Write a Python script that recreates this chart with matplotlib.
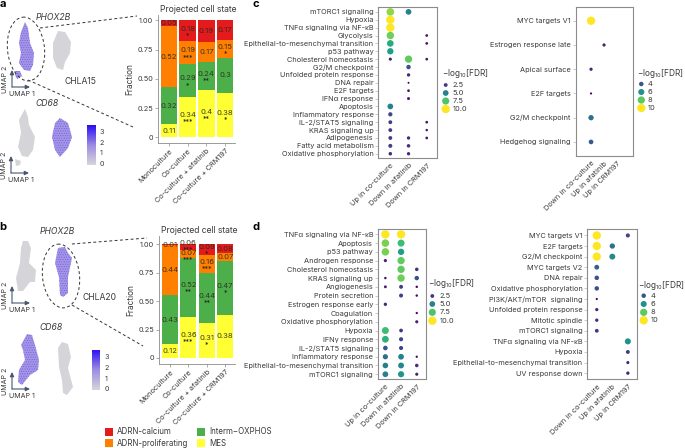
import numpy as np
import matplotlib
matplotlib.use("Agg")
import matplotlib.pyplot as plt
from matplotlib.colors import LinearSegmentedColormap, Normalize
from matplotlib.patches import Ellipse, Polygon, Rectangle

plt.rcParams['font.family'] = ['Inter', 'DejaVu Sans']
plt.rcParams['mathtext.default'] = 'regular'
plt.rcParams['hatch.linewidth'] = 0.4

W, H = 685, 448
TXT = '#3a3a3a'
GREY_BOX = '#8c8c8c'

# stacked bars
conditions = ['Monoculture', 'Co-culture', 'Co-culture + afatinib', 'Co-culture + CRM197']
states = ['MES', 'Interm−OXPHOS', 'ADRN-proliferating', 'ADRN-calcium']
state_colors = ['#ffff33', '#4daf4a', '#ff7f00', '#e41a1c']

a_mes = [0.11, 0.34, 0.40, 0.38]
a_oxphos = [0.32, 0.29, 0.24, 0.30]
a_prolif = [0.52, 0.19, 0.17, 0.15]
a_calcium = [0.05, 0.18, 0.19, 0.17]
a_labels = [['0.11', '0.34', '0.4', '0.38'], ['0.32', '0.29', '0.24', '0.3'],
            ['0.52', '0.19', '0.17', '0.15'], ['0.05', '0.18', '0.19', '0.17']]
a_stars = [['', '***', '**', '*'], ['', '*', '**', ''],
           ['', '***', '', '*'], ['', '*', '', '']]

b_mes = [0.12, 0.36, 0.31, 0.38]
b_oxphos = [0.43, 0.52, 0.44, 0.47]
b_prolif = [0.44, 0.07, 0.16, 0.07]
b_calcium = [0.01, 0.05, 0.09, 0.08]
b_labels = [['0.12', '0.36', '0.31', '0.38'], ['0.43', '0.52', '0.44', '0.47'],
            ['0.44', '0.07', '0.16', '0.07'], ['0.01', '0.06', '0.09', '0.08']]
b_stars = [['', '***', '*', ''], ['', '**', '**', '*'],
           ['', '***', '***', ''], ['', '***', '*', '']]

# dot plots, values are -log10 FDR, nan = not significant
n = np.nan
c1_terms = ['mTORC1 signaling', 'Hypoxia', 'TNFα signaling via NF-κB', 'Glycolysis',
            'Epithelial-to-mesenchymal transition', 'p53 pathway', 'Cholesterol homeostasis',
            'G2/M checkpoint', 'Unfolded protein response', 'DNA repair', 'E2F targets',
            'IFNα response', 'Apoptosis', 'Inflammatory response', 'IL-2/STAT5 signaling',
            'KRAS signaling up', 'Adipogenesis', 'Fatty acid metabolism',
            'Oxidative phosphorylation']
c1_cols = ['Up in co-culture', 'Down in afatinib', 'Down in CRM197']
c1_col0 = [8.5, 10, 10, 8, 6.5, 6, 1.8, n, n, n, n, n, 5, 3, 2.5, 2.5, 2.5, 2.7, 2.2]
c1_col1 = [5, n, n, n, n, n, 7.8, 3.2, 2, 1, 1.5, 1.7, n, n, n, n, 2, 2.2, 2]
c1_col2 = [n, n, n, 1.5, 1.5, n, 1.5, n, n, n, n, n, n, n, 1.5, 1.3, 1.5, n, n]

c2_terms = ['MYC targets V1', 'Estrogen response late', 'Apical surface', 'E2F targets',
            'G2/M checkpoint', 'Hedgehog signaling']
c2_cols = ['Down in co-culture', 'Up in afatinib', 'Up in CRM197']
c2_col0 = [10, n, 2.8, 2.1, 5, 4.2]
c2_col1 = [n, 2.8, n, n, n, n]
c2_col2 = [n, n, n, n, n, n]

d1_terms = ['TNFα signaling via NF-κB', 'Apoptosis', 'p53 pathway', 'Androgen response',
            'Cholesterol homeostasis', 'KRAS signaling up', 'Angiogenesis', 'Protein secretion',
            'Estrogen response early', 'Coagulation', 'Oxidative phosphorylation', 'Hypoxia',
            'IFNγ response', 'IL-2/STAT5 signaling', 'Inflammatory response',
            'Epithelial-to-mesenchymal transition', 'mTORC1 signaling']
d1_cols = ['Up in co-culture', 'Down in afatinib', 'Down in CRM197']
d1_col0 = [10, 8.2, 8.2, 1.9, n, 1.3, 1.6, n, 2, n, n, 7.2, 6.8, 3.4, 4.2, 4.8, 5]
d1_col1 = [10, 7.2, 6, 7.8, 7.8, 8, 2.6, 2.7, n, n, n, 2.4, 2.8, 2.8, 5, 5.2, 5.7]
d1_col2 = [n, n, n, n, 2.2, 3.2, 1.3, 1.3, n, 1.2, 1.8, n, n, n, 1.2, 2.2, 1.8]

d2_terms = ['MYC targets V1', 'E2F targets', 'G2/M checkpoint', 'MYC targets V2', 'DNA repair',
            'Oxidative phosphorylation', 'PI3K/AKT/mTOR  signaling', 'Unfolded protein response',
            'Mitotic spindle', 'mTORC1 signaling', 'TNFα signaling via NF-κB', 'Hypoxia',
            'Epithelial-to-mesenchymal transition', 'UV response down']
d2_cols = ['Down in co-culture', 'Up in afatinib', 'Up in CRM197']
d2_col0 = [10, 10, 10, 4.4, 4, 4, 2.1, 2.8, 2.9, 3.3, n, n, n, n]
d2_col1 = [n, 5, 5.8, n, n, n, n, n, n, n, n, n, n, n]
d2_col2 = [3.6, n, n, n, n, n, n, n, n, n, 6, 3.4, 2.7, 2.9]

legend_left = [2.5, 5.0, 7.5, 10.0]
legend_right = [4, 6, 8, 10]

# UMAP outlines
a_phox_main = [(25, 22), (28, 28), (30, 43), (34, 53), (33, 65), (30, 71), (24, 70), (19, 63),
               (21, 53), (19, 43), (21, 32)]
a_phox_small = [(15, 71), (20, 71), (22, 76), (17, 79), (15, 75)]
a_phox_other = [(58, 31), (65, 32), (71, 42), (70, 53), (65, 62), (63, 70), (57, 68), (53, 58),
                (53, 43)]
a_cd68_main = [(25, 109), (28, 117), (29, 125), (35, 137), (33, 150), (28, 157), (22, 156),
               (18, 147), (21, 133), (19, 120)]
a_cd68_small = [(15, 159), (21, 161), (20, 165), (16, 166)]
a_cd68_other = [(60, 118), (68, 123), (72, 137), (68, 148), (60, 157), (55, 150), (52, 137),
                (55, 123)]
b_phox_main = [(23, 241), (28, 241), (31, 248), (29, 263), (36, 270), (35, 282), (30, 282),
               (23, 291), (18, 291), (16, 278), (20, 263), (21, 248)]
b_phox_other = [(58, 248), (65, 247), (68, 253), (72, 258), (68, 277), (68, 293), (63, 297),
                (60, 295), (59, 277), (55, 263), (57, 253)]
b_cd68_main = [(27, 334), (32, 335), (35, 345), (39, 360), (38, 370), (30, 375), (22, 385),
               (18, 382), (19, 370), (25, 360), (23, 350), (21, 345)]
b_cd68_other = [(62, 342), (68, 344), (71, 357), (68, 368), (73, 387), (67, 395), (63, 393),
                (62, 380), (59, 367), (58, 348)]


def px_axes(fig, left, top, right, bottom):
    return fig.add_axes([left / W, 1 - bottom / H, (right - left) / W, (bottom - top) / H])


def stacked(ax, series, labels, stars, ylim):
    base = np.zeros(4)
    x = np.arange(4)
    for i, vals in enumerate(series):
        vals = np.array(vals)
        ax.bar(x, vals, 0.88, bottom=base, color=state_colors[i])
        for j in x:
            mid = base[j] + vals[j] / 2
            star = stars[i][j]
            lift, drop = 0.018, 0.035
            if vals[j] <= 0.05:
                lift, drop = 0.04, 0.018
            elif vals[j] <= 0.07:
                lift, drop = 0.006, 0.047
            ax.text(j, mid + (lift if star else 0), labels[i][j], ha='center', va='center',
                    fontsize=5.5, color='#2b2b1c', alpha=.9)
            if star:
                ax.text(j, mid - drop, star, ha='center', va='center', fontsize=5, color='#222222')
        base = base + vals
    ax.set_xlim(-0.59, 3.53)
    ax.set_ylim(*ylim)
    ax.set_yticks([0, .25, .5, .75, 1])
    ax.set_yticklabels(['0', '0.25', '0.50', '0.75', '1.00'])
    ax.set_xticks(x)
    ax.set_xticklabels(conditions, rotation=45, ha='right', rotation_mode='anchor')
    ax.tick_params(labelsize=5.3, length=2, width=.5, color=GREY_BOX, labelcolor=TXT, pad=1.5)
    ax.set_ylabel('Fraction', fontsize=6, color=TXT, labelpad=2)
    ax.set_title('Projected cell state', fontsize=6.2, color=TXT, pad=2.5, loc='left', x=0.03)
    for s in ['top', 'right']:
        ax.spines[s].set_visible(False)
    for s in ['left', 'bottom']:
        ax.spines[s].set_color(GREY_BOX)
        ax.spines[s].set_linewidth(.6)


def size_of(v, norm):
    return 2 + 34 * norm(np.asarray(v, dtype=float))


def dots(ax, terms, cols, columns, norm, xlim):
    y = np.arange(len(terms))
    for i, vals in enumerate(columns):
        vals = np.array(vals, dtype=float)
        ax.scatter(np.full(len(y), i), y, s=size_of(vals, norm), c=vals, cmap='viridis',
                   norm=norm, linewidths=0)
    ax.set_xlim(*xlim)
    ax.set_ylim(len(terms) - 1 + 0.58, -0.58)
    ax.set_yticks(y)
    ax.set_yticklabels(terms)
    ax.set_xticks(range(3))
    ax.set_xticklabels(cols, rotation=45, ha='right', rotation_mode='anchor')
    ax.tick_params(labelsize=5.3, length=2, width=.5, color='#b5b5b5', labelcolor=TXT, pad=1.5)
    ax.tick_params(axis='x', length=0, pad=3)
    for s in ax.spines.values():
        s.set_color(GREY_BOX)
        s.set_linewidth(.8)


def dot_legend(bg, vals, norm, title_xy, dot_x, label_x, ys):
    bg.text(title_xy[0], title_xy[1], '$-$log$_{10}$[FDR]', fontsize=5.9, color=TXT, va='center')
    bg.scatter([dot_x] * 4, ys, s=size_of(vals, norm), c=vals, cmap='viridis', norm=norm,
               linewidths=0, zorder=3)
    for v, yy in zip(vals, ys):
        bg.text(label_x, yy, str(v), fontsize=5.4, color=TXT, va='center')


def blob(bg, pts, kind):
    if kind == 'purple':
        bg.add_patch(Polygon(pts, closed=True, facecolor='#a595e6', edgecolor='#6f5de0',
                             hatch='.......', lw=0, zorder=2))
    else:
        bg.add_patch(Polygon(pts, closed=True, facecolor='#d5d4d9', edgecolor='#d5d4d9',
                             lw=0, zorder=2))


def umap_axes(bg, x0, y0):
    col = '#46566e'
    bg.annotate('', xy=(x0, y0 - 17), xytext=(x0, y0),
                arrowprops=dict(arrowstyle='-|>,head_width=.12,head_length=.25', color=col, lw=.8,
                                shrinkA=0, shrinkB=0))
    bg.annotate('', xy=(x0 + 18, y0), xytext=(x0, y0),
                arrowprops=dict(arrowstyle='-|>,head_width=.12,head_length=.25', color=col, lw=.8,
                                shrinkA=0, shrinkB=0))
    bg.text(x0 + 10, y0 + 6.5, 'UMAP 1', fontsize=5.1, color=TXT, ha='center', va='center')
    bg.text(x0 - 7, y0 - 8, 'UMAP 2', fontsize=5.1, color=TXT, ha='center', va='center', rotation=90)


def colorbar(fig, bg, left, top, right, bottom, label_x, ys):
    cax = px_axes(fig, left, top, right, bottom)
    cm = LinearSegmentedColormap.from_list('expr', ['#d6d5da', '#9c8be2', '#2a10f0'])
    cax.imshow(np.linspace(1, 0, 64).reshape(-1, 1), cmap=cm, aspect='auto')
    cax.axis('off')
    for t, yy in zip(['3', '2', '1', '0'], ys):
        bg.text(label_x, yy, t, fontsize=5.2, color=TXT, va='center')


fig = plt.figure(figsize=(W / 100, H / 100), dpi=100)

# full figure layer in pixel coordinates for UMAP sketches and annotations
bg = fig.add_axes([0, 0, 1, 1])
bg.set_xlim(0, W)
bg.set_ylim(H, 0)
bg.axis('off')

for pts, kind in [(a_phox_main, 'purple'), (a_phox_small, 'purple'), (a_phox_other, 'grey'),
                  (a_cd68_main, 'grey'), (a_cd68_small, 'grey'), (a_cd68_other, 'purple'),
                  (b_phox_main, 'grey'), (b_phox_other, 'purple'), (b_cd68_main, 'purple'),
                  (b_cd68_other, 'grey')]:
    blob(bg, pts, kind)

dash = dict(color='#333333', lw=.7, ls=(0, (3, 2.5)), zorder=3)
bg.add_patch(Ellipse((26, 49), 37, 64, angle=-6, fill=False, **dash))
bg.add_patch(Ellipse((61, 276), 37, 64, angle=-6, fill=False, **dash))
bg.plot([40, 137], [28, 16], **dash)
bg.plot([28, 133], [80, 127], **dash)
bg.plot([72, 147], [244, 238], **dash)
bg.plot([72, 143], [305, 346], **dash)

for txt, x, y in [('PHOX2B', 53, 17), ('CD68', 47, 104), ('PHOX2B', 57, 231), ('CD68', 51, 328)]:
    bg.text(x, y, txt, fontsize=6.2, style='italic', color=TXT, ha='center', va='center')
bg.text(80, 81, 'CHLA15', fontsize=6.2, color=TXT, ha='center', va='center')
bg.text(100, 298, 'CHLA20', fontsize=6.2, color=TXT, ha='center', va='center')

umap_axes(bg, 12, 87)
umap_axes(bg, 11, 173)
umap_axes(bg, 12, 303)
umap_axes(bg, 12, 389)

colorbar(fig, bg, 86.5, 125, 95, 165, 100, [131.7, 142.7, 153.3, 164])
colorbar(fig, bg, 92, 349.5, 100, 390, 105, [356.7, 367.7, 379, 389.3])

for txt, x, y in [('a', 3, 4), ('b', 3, 227), ('c', 256, 4), ('d', 256, 227)]:
    bg.text(x, y, txt, fontsize=8, fontweight='bold', color='black', ha='center', va='center')

# state legend
for i, x, y in [(3, 105, 432), (2, 105, 443), (1, 197, 432), (0, 197, 443)]:
    bg.add_patch(Rectangle((x, y - 4), 8, 8, facecolor=state_colors[i], lw=0))
    bg.text(x + 12, y, states[i], fontsize=5.7, color=TXT, va='center')

ax_a = px_axes(fig, 158, 15, 235, 143)
stacked(ax_a, [a_mes, a_oxphos, a_prolif, a_calcium], a_labels, a_stars, (-0.049, 1.045))
ax_b = px_axes(fig, 159, 236, 235, 364)
stacked(ax_b, [b_mes, b_oxphos, b_prolif, b_calcium], b_labels, b_stars, (-0.053, 1.073))

norm_l = Normalize(1, 10)
norm_r = Normalize(2, 10)

ax_c1 = px_axes(fig, 378.3, 7.3, 437.3, 158.3)
dots(ax_c1, c1_terms, c1_cols, [c1_col0, c1_col1, c1_col2], norm_l, (-0.66, 2.58))
ax_c2 = px_axes(fig, 575.7, 6.7, 633.3, 156)
dots(ax_c2, c2_terms, c2_cols, [c2_col0, c2_col1, c2_col2], norm_r, (-1.18, 3.25))
ax_d1 = px_axes(fig, 378, 229.3, 425.7, 379.3)
dots(ax_d1, d1_terms, d1_cols, [d1_col0, d1_col1, d1_col2], norm_l, (-0.47, 2.57))
ax_d2 = px_axes(fig, 587.3, 229.3, 636.7, 379.3)
dots(ax_d2, d2_terms, d2_cols, [d2_col0, d2_col1, d2_col2], norm_r, (-0.61, 2.57))

dot_legend(bg, legend_left, norm_l, (441.7, 74), 445.7, 452.7, [85, 93, 101, 109])
dot_legend(bg, legend_right, norm_r, (636.7, 73), 641.3, 648, [84, 92, 100, 108])
dot_legend(bg, legend_left, norm_l, (427.7, 284), 432.3, 439.3, [296, 304, 312.3, 320.7])
dot_legend(bg, legend_right, norm_r, (638, 285), 643.7, 650.7, [295.7, 304, 312.3, 320.3])

fig.savefig('out.png', dpi=100)
